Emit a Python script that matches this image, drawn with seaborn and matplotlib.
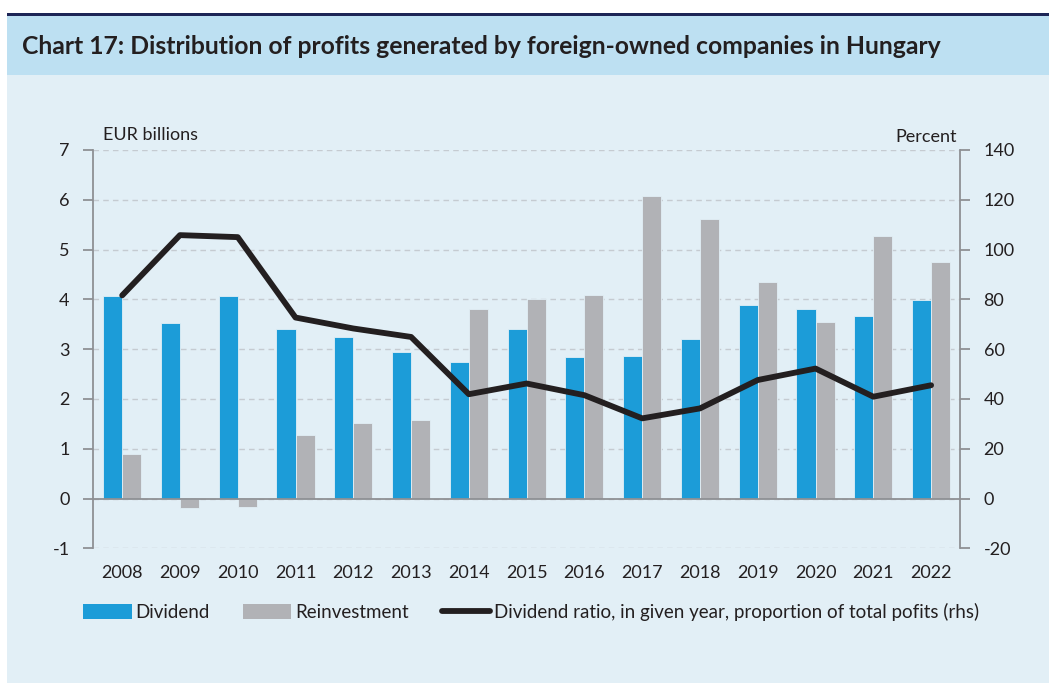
import matplotlib
matplotlib.use("Agg")
import matplotlib.pyplot as plt
from matplotlib.patches import Rectangle, Patch
from matplotlib.lines import Line2D
import seaborn as sns
import pandas as pd
import numpy as np

years = [str(y) for y in range(2008, 2023)]
dividend = [4.06, 3.52, 4.06, 3.40, 3.25, 2.94, 2.75, 3.40, 2.85, 2.87, 3.20, 3.89, 3.81, 3.67, 3.98]
reinvestment = [0.89, -0.19, -0.18, 1.28, 1.52, 1.58, 3.81, 4.01, 4.08, 6.08, 5.62, 4.34, 3.54, 5.27, 4.75]
dividend_ratio = [81.6, 105.8, 105.0, 72.7, 68.3, 64.9, 41.9, 46.2, 41.5, 32.2, 36.2, 47.6, 52.2, 40.9, 45.5]

series_names = ["Dividend", "Reinvestment"]
line_name = "Dividend ratio, in given year, proportion of total pofits (rhs)"

BLUE = "#1C9CD8"
GREY = "#B1B2B6"
LINE = "#231F20"
PANEL = "#E2EFF6"
BAND = "#BDE0F2"
NAVY = "#1D2556"
AXIS = "#8E9094"
TEXT = "#231F20"

sns.set_style("white")
plt.rcParams["font.family"] = ["Lato", "DejaVu Sans"]
plt.rcParams["axes.unicode_minus"] = False

df = pd.DataFrame({"year": years, "Dividend": dividend, "Reinvestment": reinvestment})
long_df = df.melt(id_vars="year", var_name="series", value_name="value")

W, H = 1049, 684
fig = plt.figure(figsize=(W / 100, H / 100), dpi=100, facecolor="white")

# background panel, title band and top rule
fig.patches.append(Rectangle((7 / W, 1 - 683 / H), 1 - 7 / W, (683 - 16) / H,
                             transform=fig.transFigure, facecolor=PANEL, edgecolor="none", zorder=-10))
fig.patches.append(Rectangle((7 / W, 1 - 75 / H), 1 - 7 / W, (75 - 16) / H,
                             transform=fig.transFigure, facecolor=BAND, edgecolor="none", zorder=-9))
fig.patches.append(Rectangle((7 / W, 1 - 16 / H), 1 - 7 / W, 3 / H,
                             transform=fig.transFigure, facecolor=NAVY, edgecolor="none", zorder=-9))
fig.text(22 / W, 1 - 47 / H, "Chart 17: Distribution of profits generated by foreign-owned companies in Hungary",
         fontsize=17.8, fontweight="bold", color=TEXT, va="center", ha="left")

ax = fig.add_axes([93.3 / W, 1 - 548.3 / H, (960 - 93.3) / W, (548.3 - 150) / H])
ax.set_facecolor("none")

sns.barplot(data=long_df, x="year", y="value", hue="series", hue_order=series_names,
            palette=[BLUE, GREY], width=0.66, gap=0, ax=ax, legend=False,
            edgecolor=PANEL, linewidth=0.6, saturation=1, zorder=3)

ax.set_ylim(-1, 7)
ax.set_yticks(range(-1, 8))
ax.set_xlim(-0.5, len(years) - 0.5)
ax.set_xlabel("")
ax.set_ylabel("")
ax.set_axisbelow(True)
ax.yaxis.grid(True, linestyle=(0, (4, 3)), color="#C5CBD1", linewidth=1)
ax.axhline(0, color=AXIS, linewidth=1.3, zorder=4)
for s in ["top", "bottom", "right"]:
    ax.spines[s].set_visible(False)
ax.spines["left"].set_color(AXIS)
ax.spines["left"].set_linewidth(1.3)
ax.tick_params(axis="y", direction="out", length=7, width=1.3, color=AXIS,
               labelsize=13, labelcolor=TEXT, pad=10)
ax.tick_params(axis="x", length=0, labelsize=13, labelcolor=TEXT, pad=12)

ax2 = ax.twinx()
sns.lineplot(x=np.arange(len(years)), y=dividend_ratio, color=LINE, linewidth=4.2,
             ax=ax2, solid_capstyle="round", zorder=5)
ax2.set_ylim(-20, 140)
ax2.set_yticks(range(-20, 141, 20))
for s in ["top", "bottom", "left"]:
    ax2.spines[s].set_visible(False)
ax2.spines["right"].set_color(AXIS)
ax2.spines["right"].set_linewidth(1.3)
ax2.tick_params(axis="y", direction="out", length=7, width=1.3, color=AXIS,
                labelsize=13, labelcolor=TEXT, pad=10)
ax2.set_ylabel("")

fig.text(103 / W, 1 - 135 / H, "EUR billions", fontsize=13, color=TEXT, va="center", ha="left")
fig.text(957 / W, 1 - 137 / H, "Percent", fontsize=13, color=TEXT, va="center", ha="right")

handles = [Patch(facecolor=BLUE, edgecolor="none"),
           Patch(facecolor=GREY, edgecolor="none"),
           Line2D([0], [0], color=LINE, linewidth=4.2)]
fig.legend(handles, series_names + [line_name], loc="center left",
           bbox_to_anchor=(66 / W, 1 - 612 / H), ncol=3, frameon=False,
           fontsize=13.5, handlelength=2.6, handleheight=0.8, handletextpad=0.2,
           columnspacing=1.75, labelcolor=TEXT)

fig.savefig("out.png", dpi=100, facecolor="white")
